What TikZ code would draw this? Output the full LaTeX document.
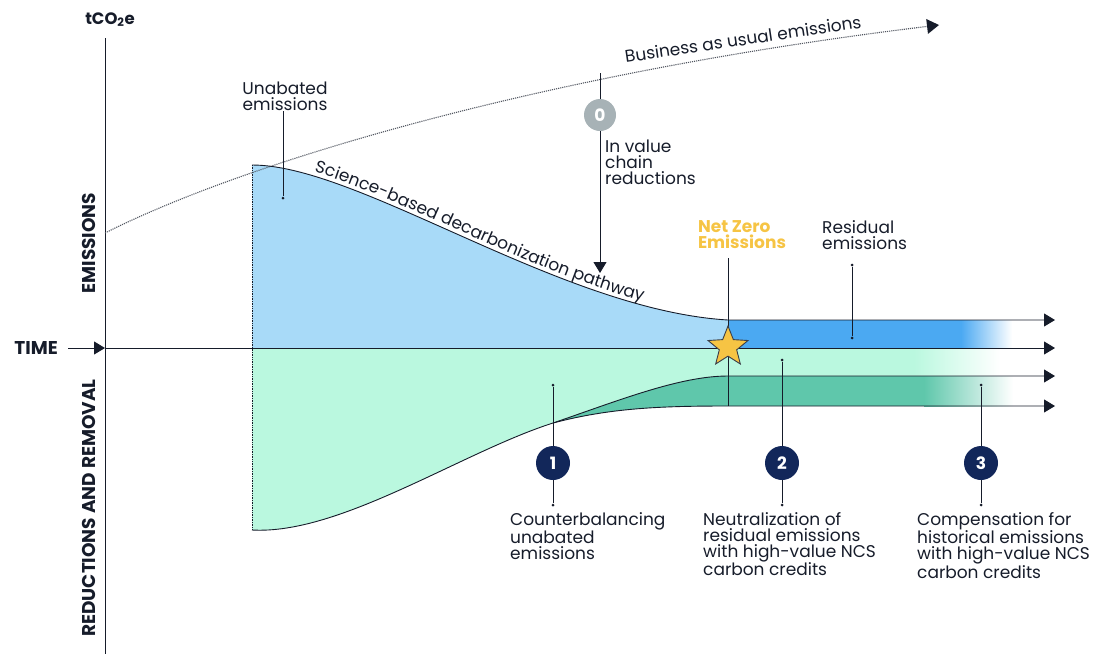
\documentclass[tikz,border=0pt]{standalone}
\usepackage{fontspec}
\setmainfont{Poppins}
\usetikzlibrary{arrows.meta,shapes.geometric,decorations.text}
\definecolor{navy}{HTML}{12275A}
\definecolor{ink}{HTML}{161C2A}
\definecolor{bluelight}{HTML}{A8DAF8}
\definecolor{bluedark}{HTML}{4BA9F2}
\definecolor{greenlight}{HTML}{BAF8DF}
\definecolor{greendark}{HTML}{5FC7AB}
\definecolor{zerogray}{HTML}{A7B2B6}
\definecolor{netzero}{HTML}{F6C444}
\tikzset{
  lbl/.style={font=\fontsize{17}{16}\selectfont, text=ink, inner sep=0pt, align=left},
  axlbl/.style={font=\bfseries\fontsize{18.5}{18}\selectfont, text=ink, inner sep=0pt},
  leader/.style={draw=ink, line width=1pt},
  outline/.style={draw=ink, line width=0.9pt},
  arr/.style={-{Triangle[length=11pt,width=13pt]}},
  numc/.style={circle, fill=navy, minimum size=34pt, inner sep=0pt, text=white, font=\bfseries\fontsize{17}{17}\selectfont},
  dotc/.style={circle, fill=ink, minimum size=3pt, inner sep=0pt},
}
\begin{document}
\begin{tikzpicture}[x=1pt,y=-1pt]
\useasboundingbox (0,0) rectangle (1100,654);
% ---- fills
\fill[bluelight] (252,348) -- (252,165) .. controls (360,165) and (560,310) .. (728,320) -- (728,348) -- cycle;
\fill[bluedark] (728,320) rectangle (962,348);
\shade[left color=bluedark, right color=white] (961,320) rectangle (1012,348);
\fill[greenlight] (252,348) -- (252,530) .. controls (340,535) and (462,452) .. (553,423) .. controls (620,400) and (680,376) .. (728,376) -- (915,376) -- (915,348) -- cycle;
\fill[greenlight] (728,348) rectangle (915,376);
\shade[left color=greenlight, right color=white] (914,348) rectangle (1000,376);
\fill[greendark] (553,423) .. controls (620,400) and (680,376) .. (728,376) -- (925,376) -- (925,406) -- (728,406) .. controls (660,406) and (610,408) .. (553,423) -- cycle;
\shade[left color=greendark, right color=white] (924,376) rectangle (1013,406);
% ---- dotted left edge
\draw[ink, densely dotted, line width=0.7pt] (252,165) -- (252,530);
% ---- axes
\coordinate (ytop) at (105,38);
\coordinate (ybot) at (105,654);
\draw[ink, line width=1pt] (ytop) -- (ybot);
\node[axlbl, anchor=south, font=\bfseries\fontsize{16.5}{16}\selectfont] (tco) at (110,27) {tCO\textsubscript{2}e};
\node[axlbl, anchor=east] (time) at (58,348) {TIME};
\coordinate (tstart) at (68,348);
\coordinate (torig) at (105,348);
\coordinate (tend) at (1055,348);
\draw[ink, line width=1pt, arr] (tstart) -- (torig);
\draw[ink, line width=1pt, arr] (torig) -- (tend);
\node[axlbl, rotate=90] (emis) at (89,243) {EMISSIONS};
\node[axlbl, rotate=90] (redrem) at (89,508) {REDUCTIONS AND REMOVAL};
% ---- business as usual
\coordinate (bau0) at (105,233);
\coordinate (bau1) at (939,25);
\draw[ink!75, densely dotted, line width=1.1pt, -{Triangle[length=12pt,width=15pt,fill=ink,color=ink,line width=0pt]}] (bau0) .. controls (250,160) and (550,72) .. (bau1);
\node[lbl, rotate=8.5] (bau) at (743,39) {Business as usual emissions};
% ---- curves with arrows
\coordinate (r1) at (1055,320);
\coordinate (r3) at (1055,376);
\coordinate (r4) at (1055,406);
\draw[outline, arr] (252,165) .. controls (360,165) and (560,310) .. (728,320) -- (r1);
\draw[outline] (252,530) .. controls (340,535) and (462,452) .. (553,423);
\draw[outline, arr] (553,423) .. controls (620,400) and (680,376) .. (728,376) -- (r3);
\draw[outline, arr] (553,423) .. controls (610,408) and (660,406) .. (728,406) -- (r4);
% ---- text along pathway
\path[decorate, decoration={text along path, raise=4pt, text format delimiters={|}{|},
  text align={left indent=62pt},
  text={|\fontsize{17}{16}\selectfont\color{ink}|Science-based decarbonization pathway}}]
  (252,165) .. controls (360,165) and (560,310) .. (728,320);
% ---- unabated
\node[lbl, align=center, anchor=south] (unab) at (285,111) {Unabated\\emissions};
\node[dotc] (unabdot) at (283,198) {};
\draw[leader] (unab.south -| unabdot) -- (unabdot);
% ---- 0
\coordinate (c0top) at (600,73);
\coordinate (c0tip) at (600,273);
\node[numc, fill=zerogray, minimum size=32pt] (c0) at (600,115) {0};
\draw[leader] (c0top) -- (c0);
\draw[leader, arr] (c0) -- (c0tip);
\node[lbl, anchor=north west] (ivc) at (605,140) {In value\\chain\\reductions};
% ---- net zero
\node[lbl, text=netzero, anchor=south] (nz) at (742,249) {\bfseries Net Zero\\\bfseries Emissions};
\coordinate (nztop) at (728,258);
\coordinate (nzbot) at (728,406);
\draw[leader] (nztop) -- (nzbot);
\node[star, star points=5, star point ratio=2.3, minimum size=42pt, inner sep=0pt, fill=netzero, draw=ink!85, line width=0.9pt] (star) at (728,347) {};
% ---- residual
\node[lbl, anchor=south west] (resid) at (822,250) {Residual\\emissions};
\node[dotc] (residtop) at (852,265) {};
\node[dotc] (residbot) at (852,338) {};
\draw[leader] (residtop) -- (residbot);
% ---- 1 2 3
\node[dotc] (c1top) at (553,385) {};
\node[dotc] (c1bot) at (553,505) {};
\draw[leader] (c1top) -- (c1bot);
\node[numc] (c1) at (553,463) {1};
\node[lbl, anchor=north west] (t1) at (510,512) {Counterbalancing\\unabated\\emissions};

\node[dotc] (c2top) at (782,360) {};
\node[dotc] (c2bot) at (782,505) {};
\draw[leader] (c2top) -- (c2bot);
\node[numc] (c2) at (782,463) {2};
\node[lbl, anchor=north west] (t2) at (703,512) {Neutralization of\\residual emissions\\with high-value NCS\\carbon credits};

\node[dotc] (c3top) at (981,385) {};
\node[dotc] (c3bot) at (981,505) {};
\draw[leader] (c3top) -- (c3bot);
\node[numc] (c3) at (981,463) {3};
\node[lbl, anchor=north west] (t3) at (917,512) {Compensation for\\historical emissions\\with high-value NCS\\carbon credits};
\end{tikzpicture}
\end{document}
